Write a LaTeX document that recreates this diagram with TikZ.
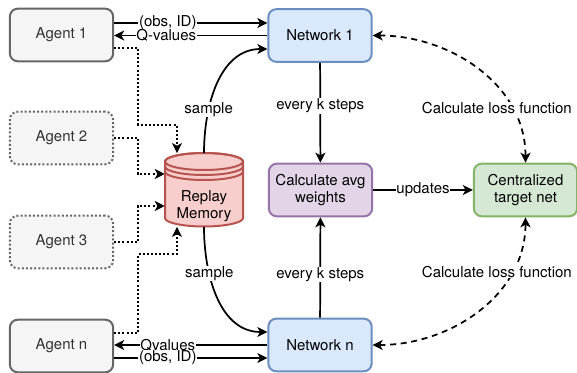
\documentclass[tikz,border=0pt]{standalone}
\usepackage{fontspec}
\setmainfont{TeX Gyre Heros}
\usetikzlibrary{arrows.meta,calc}

\definecolor{agentfill}{HTML}{F5F5F5}
\definecolor{agentline}{HTML}{666666}
\definecolor{agenttext}{HTML}{333333}
\definecolor{netfill}{HTML}{DAE8FC}
\definecolor{netline}{HTML}{6C8EBF}
\definecolor{avgfill}{HTML}{E1D5E7}
\definecolor{avgline}{HTML}{9673A6}
\definecolor{tgtfill}{HTML}{D5E8D4}
\definecolor{tgtline}{HTML}{82B366}
\definecolor{memfill}{HTML}{F8CECC}
\definecolor{memline}{HTML}{B85450}

\tikzset{
  box/.style={draw, line width=1.5pt, rounded corners=6pt, align=center,
    minimum width=77.5pt, minimum height=39.5pt, inner sep=2pt},
  agent/.style={box, fill=agentfill, draw=agentline, text=agenttext},
  idle/.style={agent, dash pattern=on 1.5pt off 1.6pt},
  net/.style={box, fill=netfill, draw=netline},
  flow/.style={line width=1.3pt, -{Stealth[length=7.5pt,width=7.5pt,inset=2pt]}},
  feed/.style={flow, dash pattern=on 1.5pt off 1.6pt},
  loss/.style={line width=1.3pt, dash pattern=on 4.5pt off 3.5pt,
    {Stealth[length=7.5pt,width=7.5pt,inset=2pt]}-{Stealth[length=7.5pt,width=7.5pt,inset=2pt]}},
  lbl/.style={fill=white, inner sep=0.6pt}
}

\begin{document}
\begin{tikzpicture}[x=0.75pt, y=0.75pt, font=\fontsize{11.25}{13}\selectfont]
  \useasboundingbox (0,0) rectangle (577,-373);

  % agents
  \node[agent] (a1) at (61.5,-35) {Agent 1};
  \node[idle]  (a2) at (61.5,-138) {Agent 2};
  \node[idle]  (a3) at (61.5,-242) {Agent 3};
  \node[agent] (an) at (61.5,-346) {Agent n};

  % networks
  \node[net] (net1) at (320,-35.5) {Network 1};
  \node[net] (netn) at (320,-345) {Network n};
  \node[box, fill=avgfill, draw=avgline] (avg) at (320.5,-190) {Calculate avg\\weights};
  \node[box, fill=tgtfill, draw=tgtline] (tgt) at (525.5,-190) {Centralized\\target net};

  % replay memory (cylinder)
  \node[minimum width=58.5pt, minimum height=55pt, inner sep=0pt] (mem) at (204,-190) {};
  \draw[line width=1.5pt, draw=memline, fill=memfill]
    (165,-161.5) -- (165,-218) arc[start angle=180, end angle=360, x radius=39, y radius=8.5]
    -- (243,-161.5) arc[start angle=0, end angle=180, x radius=39, y radius=8.5] -- cycle;
  \draw[line width=1.5pt, draw=memline] (204,-161.5) ellipse [x radius=39, y radius=8.5];
  \draw[line width=1.5pt, draw=memline]
    (165,-166.5) arc[start angle=180, end angle=360, x radius=39, y radius=8.5];
  \draw[line width=1.5pt, draw=memline]
    (165,-171.5) arc[start angle=180, end angle=360, x radius=39, y radius=8.5];
  \node[align=center, inner sep=0pt] (memtxt) at (204,-206) {Replay\\Memory};

  % agent <-> network
  \draw[flow] ($(a1.east)+(0,12)$) -- ($(net1.west)+(0,12.5)$) node[lbl, pos=0.35] {(obs, ID)};
  \draw[flow] (net1.west) -- (a1.east |- net1.west) node[lbl, pos=0.66] {Q-values};
  \draw[flow] (netn.west) -- (an.east |- netn.west) node[lbl, pos=0.65] {Qvalues};
  \draw[flow] ($(an.east)+(0,-12)$) -- ($(netn.west)+(0,-13)$) node[lbl, pos=0.35] {(obs, ID)};

  % sampling
  \draw[flow] (mem.north) to[out=90, in=180] node[lbl, pos=0.3] {sample} ($(net1.west)+(0,-13.5)$);
  \draw[flow] (mem.south) to[out=-90, in=180] node[lbl, pos=0.32] {sample} ($(netn.west)+(0,13)$);

  % experience into memory
  \draw[feed] ($(a1.east)+(0,-13)$) -| (138,-125) -| ($(mem.north)+(-27,0)$);
  \draw[feed] (a2.east) -| (138,-174) -- (mem.west |- 0,-174);
  \draw[feed] (a3.east) -| (138,-206) -- (mem.west |- 0,-206);
  \draw[feed] ($(an.east)+(0,13)$) -| (138,-254) -| ($(mem.south)+(-27,0)$);

  % averaging
  \draw[flow] (net1) -- (avg) node[lbl, pos=0.43] {every k steps};
  \draw[flow] (netn) -- (avg) node[lbl, pos=0.43] {every k steps};
  \draw[flow] (avg) -- (tgt) node[lbl, midway] {updates};

  % loss
  \draw[loss] (net1.east) to[out=0, in=90]
    node[lbl, pos=0.74, xshift=-11pt] {Calculate loss function} (tgt.north);
  \draw[loss] (netn.east) to[out=0, in=-90]
    node[lbl, pos=0.74, xshift=-11pt] {Calculate loss function} (tgt.south);
\end{tikzpicture}
\end{document}
